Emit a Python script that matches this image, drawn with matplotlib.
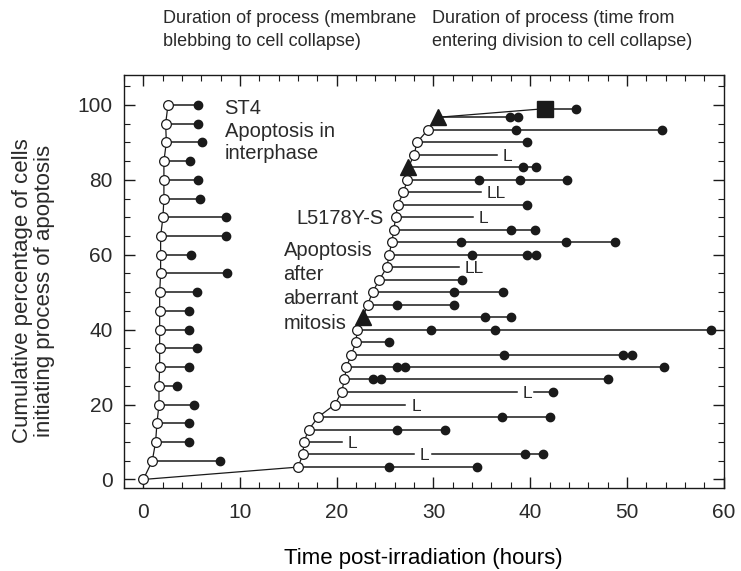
import matplotlib
matplotlib.use("Agg")
from matplotlib import pyplot as plt
from matplotlib.ticker import MultipleLocator

# ST4: apoptosis in interphase (membrane blebbing -> collapse)
st4_pct = [5, 10, 15, 20, 25, 30, 35, 40, 45, 50, 55, 60, 65, 70, 75, 80, 85, 90, 95, 100]
st4_start = [0.93, 1.27, 1.41, 1.62, 1.62, 1.69, 1.69, 1.69, 1.69, 1.69,
             1.79, 1.79, 1.79, 2.03, 2.13, 2.13, 2.13, 2.38, 2.31, 2.55]
st4_end = [7.98, 4.69, 4.69, 5.24, 3.48, 4.69, 5.60, 4.69, 4.69, 5.60,
           8.66, 4.97, 8.56, 8.60, 5.83, 5.66, 4.87, 6.11, 5.66, 5.66]

# L5178Y-S: apoptosis after aberrant mitosis (entering division -> collapse)
l5_pct = [3.3, 6.7, 10, 13.3, 16.7, 20, 23.3, 26.7, 30, 33.3, 36.7, 40, 43.3, 46.7, 50,
          53.3, 56.7, 60, 63.3, 66.7, 70, 73.3, 76.7, 80, 83.3, 86.7, 90, 93.3, 96.7, 99]
l5_start = [16.0, 16.5, 16.6, 17.1, 18.1, 19.8, 20.5, 20.8, 21.0, 21.5, 22.0, 22.1, 22.7, 23.2, 23.7,
            24.4, 25.2, 25.4, 25.7, 25.9, 26.1, 26.3, 26.9, 27.3, 27.4, 28.0, 28.3, 29.4, 30.5, 41.5]
l5_dots = [[25.4, 34.5], [39.5, 41.3], [], [26.2, 31.2], [37.1, 42.1], [], [42.4],
           [23.8, 24.6, 48.0], [26.2, 27.1, 53.8], [37.3, 49.6, 50.5], [25.4], [29.7, 36.4, 58.7],
           [35.3, 38.0], [26.2, 32.1], [32.1, 37.2], [33.0], [], [34.0, 39.7, 40.6],
           [32.8, 43.7, 48.8], [38.0, 40.5], [], [39.7], [], [34.7, 38.9, 43.8], [39.3, 40.6],
           [], [39.7], [38.5, 53.6], [37.9, 38.7], [44.7]]
triangle_pct = [43.3, 83.3, 96.7]
square_pct = [99]

# cells lost from view ("L")
lost_pct = [6.7, 10, 20, 23.3, 56.7, 70, 76.7, 86.7]
lost_x = [28.0, 20.5, 27.1, 38.6, 32.6, 34.1, 34.9, 36.6]
lost_label = ["L", "L", "L", "L", "LL", "L", "LL", "L"]

txt = "#2a2a2a"
ink = "#1a1a1a"
plt.rcParams["font.family"] = ["Liberation Sans", "DejaVu Sans"]
plt.rcParams["text.color"] = txt

fig = plt.figure(figsize=(7.41, 5.71), dpi=100)
ax = fig.add_axes([0.1673, 0.1459, 0.8092, 0.7228])

# cumulative curves
ax.plot([0] + st4_start, [0] + st4_pct, color=ink, lw=0.9, zorder=2)
ax.plot([0] + l5_start, [0] + l5_pct, color=ink, lw=0.9, zorder=2)

# ST4 rows
for y, x0, x1 in zip(st4_pct, st4_start, st4_end):
    ax.plot([x0, x1], [y, y], color=ink, lw=1.1, zorder=1)
ax.plot(st4_end, st4_pct, "o", color=ink, ms=6, zorder=3)

# L5178Y-S rows
lost = {p: (x, lab) for p, x, lab in zip(lost_pct, lost_x, lost_label)}
for y, x0, dots in zip(l5_pct, l5_start, l5_dots):
    end = max(dots) if dots else x0
    if y in lost:
        lx, lab = lost[y]
        ax.plot([x0, lx], [y, y], color=ink, lw=1.1, zorder=1)
        ax.text(lx + 0.6, y, lab, fontsize=12.5, ha="left", va="center_baseline", color=txt)
        if end > lx:
            ax.plot([lx + 1.8, end], [y, y], color=ink, lw=1.1, zorder=1)
    else:
        ax.plot([x0, end], [y, y], color=ink, lw=1.1, zorder=1)
    if dots:
        ax.plot(dots, [y] * len(dots), "o", color=ink, ms=6, zorder=3)

# start markers
open_x = [0] + st4_start + [x for x, p in zip(l5_start, l5_pct)
                            if p not in triangle_pct and p not in square_pct]
open_y = [0] + st4_pct + [p for p in l5_pct if p not in triangle_pct and p not in square_pct]
ax.plot(open_x, open_y, "o", mfc="white", mec=ink, mew=0.9, ms=7, zorder=4)
tri_x = [x for x, p in zip(l5_start, l5_pct) if p in triangle_pct]
ax.plot(tri_x, triangle_pct, "^", color=ink, ms=11, zorder=4)
sq_x = [x for x, p in zip(l5_start, l5_pct) if p in square_pct]
ax.plot(sq_x, square_pct, "s", color=ink, ms=11, zorder=4)

# annotations
ax.text(8.4, 101.5, "ST4\nApoptosis in\ninterphase", fontsize=14.5, va="top", ha="left", linespacing=1.23)
ax.text(15.8, 68.2, "L5178Y-S", fontsize=14.5, va="baseline", ha="left")
ax.text(14.5, 63.8, "Apoptosis\nafter\naberrant\nmitosis", fontsize=14.5, va="top", ha="left",
        linespacing=1.36)

fig.text(0.22, 0.9825, "Duration of process (membrane\nblebbing to cell collapse)",
         fontsize=13, va="top", ha="left", linespacing=1.5)
fig.text(0.583, 0.9825, "Duration of process (time from\nentering division to cell collapse)",
         fontsize=13, va="top", ha="left", linespacing=1.5)
fig.text(0.045, 1 - 291 / 571, "Cumulative percentage of cells\ninitiating process of apoptosis",
         fontsize=16, rotation=90, ha="center", va="center", multialignment="center", linespacing=1.05)
ax.set_xlabel("Time post-irradiation (hours)", fontsize=16, labelpad=19)

ax.set_xlim(-2, 60)
ax.set_ylim(-2.2, 108)
ax.xaxis.set_major_locator(MultipleLocator(10))
ax.xaxis.set_minor_locator(MultipleLocator(2))
ax.yaxis.set_major_locator(MultipleLocator(20))
ax.yaxis.set_minor_locator(MultipleLocator(5))
ax.tick_params(which="both", direction="in", top=True, right=True, colors=ink, labelcolor=txt,
               labelsize=15)
ax.tick_params(which="major", length=8, width=1)
ax.tick_params(which="minor", length=4.5, width=0.8)
ax.tick_params(axis="x", pad=11)
ax.tick_params(axis="y", pad=8)
for s in ax.spines.values():
    s.set_color(ink)
    s.set_linewidth(1)

fig.savefig("out.png", dpi=100)
